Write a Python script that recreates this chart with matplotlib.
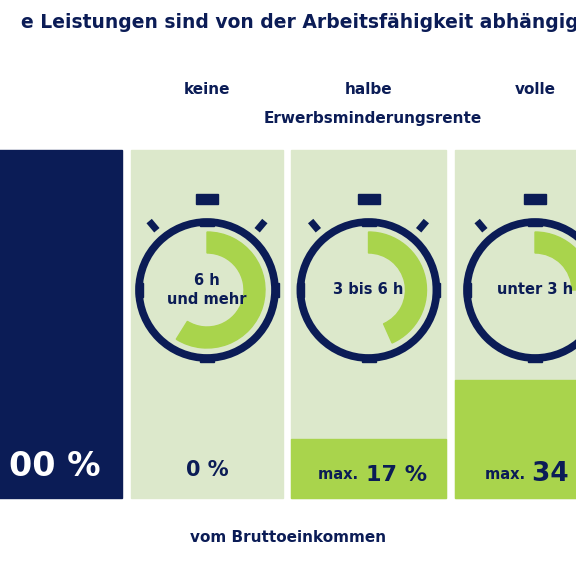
import numpy as np
import matplotlib.pyplot as plt
from matplotlib.patches import Rectangle, Wedge, Circle

navy = "#0b1c56"
light = "#dce8cb"
green = "#a9d44c"

# data
tops = ["", "keine", "halbe", "volle"]
hours = ["", "6 h\nund mehr", "3 bis 6 h", "unter 3 h"]
percent = [100, 0, 17, 34]
value_labels = ["00 %", "0 %", "max. 17 %", "max. 34 %"]
arc_deg = [0, 212, 156, 90]   # green arc, clockwise from 12 o'clock

fig = plt.figure(figsize=(5.76, 5.76), dpi=100)
ax = fig.add_axes([0, 0, 1, 1])
ax.set_xlim(0, 576)
ax.set_ylim(576, 0)
ax.axis("off")

ax.text(300, 22, "e Leistungen sind von der Arbeitsfähigkeit abhängig", color=navy,
        fontsize=13.5, fontweight="bold", ha="center", va="center")

col_x = [-40, 131, 291, 455]
col_w = [162, 152, 155, 160]
y_top, y_bot = 150, 498
scale = (y_bot - y_top) / 100.0

for i in range(4):
    x, w = col_x[i], col_w[i]
    cx = x + w / 2
    if i == 0:
        ax.add_patch(Rectangle((x, y_bot - percent[i] * scale), w, percent[i] * scale, color=navy))
        ax.text(55, 466, value_labels[i], color="white", fontsize=24, fontweight="bold",
                ha="center", va="center")
        continue
    ax.add_patch(Rectangle((x, y_top), w, y_bot - y_top, color=light))
    if percent[i] > 0:
        h = percent[i] * scale
        ax.add_patch(Rectangle((x, y_bot - h), w, h, color=green))
    ax.text(cx, 90, tops[i], color=navy, fontsize=11, fontweight="bold", ha="center", va="center")
    # clock
    cy = 290
    ax.add_patch(Wedge((cx, cy), 58, -90, -90 + arc_deg[i], width=21, color=green))
    ax.add_patch(Circle((cx, cy), 68, fill=False, ec=navy, lw=5.5))
    for a in [0, 90, 180, 270]:
        t = np.radians(a)
        px, py = cx + 68 * np.cos(t), cy + 68 * np.sin(t)
        if a in (0, 180):
            ax.add_patch(Rectangle((px - 3.5, py - 7), 7, 14, color=navy))
        else:
            ax.add_patch(Rectangle((px - 7, py - 3.5), 14, 7, color=navy))
    ax.add_patch(Rectangle((cx - 11, 194), 22, 10, color=navy))
    for s in (-1, 1):
        t = np.radians(-90 + s * 40)
        r1, r2 = 78, 90
        ax.plot([cx + r1 * np.cos(t), cx + r2 * np.cos(t)],
                [cy + r1 * np.sin(t), cy + r2 * np.sin(t)], color=navy, lw=5,
                solid_capstyle="butt")
    ax.text(cx, cy, hours[i], color=navy, fontsize=10.5, fontweight="bold", ha="center",
            va="center", linespacing=1.4)
    # value label
    lab = value_labels[i]
    if lab.startswith("max."):
        big = 16 if percent[i] < 30 else 19
        ax.text(cx - 5, 479, "max. ", color=navy, fontsize=10.5, fontweight="bold",
                ha="right", va="baseline")
        ax.text(cx - 3, 481, lab[5:], color=navy, fontsize=big, fontweight="bold",
                ha="left", va="baseline")
    else:
        ax.text(cx, 470, lab, color=navy, fontsize=15, fontweight="bold", ha="center", va="center")

ax.text(373, 118, "Erwerbsminderungsrente", color=navy, fontsize=11, fontweight="bold",
        ha="center", va="center")
ax.text(288, 538, "vom Bruttoeinkommen", color=navy, fontsize=11, fontweight="bold",
        ha="center", va="center")

fig.savefig("out.png", dpi=100, facecolor="white")
